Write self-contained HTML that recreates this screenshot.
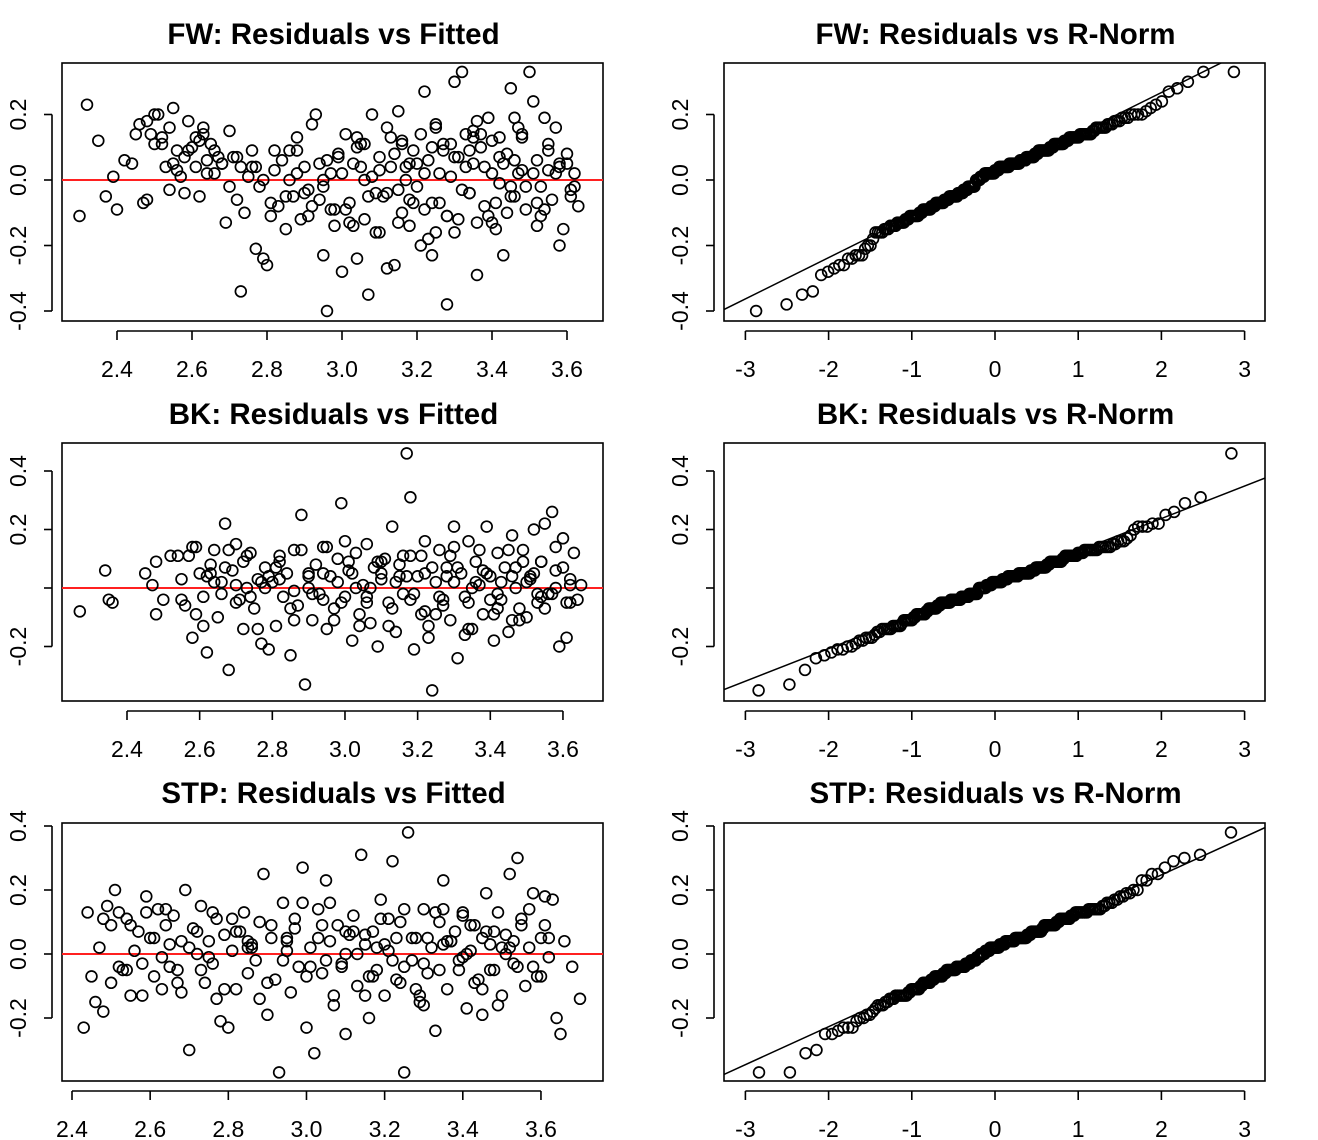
<!DOCTYPE html>
<html><head><meta charset="utf-8">
<style>
html,body{margin:0;padding:0;background:#fff;}
svg{display:block;}
text{font-family:"Liberation Sans",Arial,sans-serif;fill:#000;}
</style></head>
<body>
<svg id="chart" width="1318" height="1140" viewBox="0 0 1318 1140" xmlns="http://www.w3.org/2000/svg"></svg>
<script>
// ---- FW data ----
const fwFitted = [2.32,2.30,2.35,2.37,2.39,2.40,2.42,2.44,2.46,2.47,2.48,2.49,2.50,2.51,2.52,2.53,2.54,2.55,2.56,2.57,2.58,2.59,2.60,2.61,2.62,2.63,2.64,2.65,2.66,2.68,2.69,2.70,2.71,2.72,2.73,2.74,2.75,2.76,2.77,2.78,2.79,2.80,2.81,2.82,2.83,2.84,2.85,2.86,2.87,2.88,2.89,2.90,2.91,2.92,2.93,2.94,2.95,2.96,2.97,2.98,2.99,3.00,3.01,3.02,3.03,3.04,3.05,3.06,3.07,3.08,3.09,3.10,3.11,3.12,3.13,3.14,3.15,3.16,3.17,3.18,3.19,3.20,3.21,3.22,3.23,3.24,3.25,3.26,3.27,3.28,3.29,3.30,3.31,3.32,3.33,3.34,3.35,3.36,3.37,3.38,3.39,3.40,3.41,3.42,3.43,3.44,3.45,3.46,3.47,3.48,3.49,3.50,3.51,3.52,3.53,3.54,3.55,3.56,3.57,3.58,3.59,3.60,3.61,3.62,3.63,
3.10,3.12,3.14,3.16,3.18,3.20,3.22,3.24,3.26,3.28,3.30,3.32,3.34,3.36,3.38,3.40,3.42,3.44,3.46,3.48,3.02,3.04,3.06,3.08,2.96,2.98,2.92,2.88,3.35,3.45,3.25,3.15,3.05,2.95,3.52,3.55,3.58,2.66,2.62,2.56];
const fwResid = [0.23,-0.11,0.12,-0.05,0.01,-0.09,0.06,0.05,0.17,-0.07,-0.06,0.14,0.11,0.20,0.13,0.04,-0.03,0.22,0.09,0.01,0.07,0.18,0.10,0.04,-0.05,0.16,0.06,0.11,0.02,0.05,-0.13,0.15,0.07,-0.06,-0.34,-0.10,0.01,0.04,-0.21,-0.02,-0.24,-0.26,-0.11,0.03,-0.08,0.06,-0.15,0.00,-0.05,0.09,-0.12,0.04,-0.03,0.17,0.20,-0.06,-0.23,-0.40,0.02,-0.09,0.08,-0.28,0.14,-0.13,0.05,-0.24,0.11,0.00,-0.35,0.20,-0.16,0.07,-0.05,-0.27,0.13,-0.26,0.21,-0.10,0.04,-0.14,0.09,-0.02,-0.20,0.27,0.06,-0.23,0.17,-0.07,0.11,-0.38,0.01,0.30,-0.12,0.33,0.14,-0.04,0.05,-0.29,0.10,-0.08,0.19,0.02,-0.15,0.13,-0.23,0.08,0.28,-0.05,0.16,0.03,-0.09,0.33,0.24,0.06,-0.02,0.19,0.11,-0.06,0.02,-0.20,-0.15,0.08,-0.03,0.02,-0.08,
0.03,-0.04,0.08,0.12,-0.06,0.05,-0.09,0.10,0.02,-0.11,0.07,-0.03,0.09,-0.13,0.04,0.12,-0.01,-0.10,0.06,0.14,-0.07,0.10,-0.12,0.01,0.06,-0.14,-0.08,0.02,0.15,-0.02,-0.16,-0.03,0.04,-0.02,-0.07,0.03,0.05,0.09,0.12,0.03];
// extra points (fitted positions shared by all three models)
const extraFitted = [2.45,2.48,2.52,2.55,2.58,2.61,2.64,2.67,2.70,2.73,2.76,2.79,2.82,2.85,2.88,2.91,2.94,2.97,3.00,3.03,3.06,3.09,3.12,3.15,3.18,3.21,3.24,3.27,3.30,3.33,3.36,3.39,3.42,3.45,3.48,3.51,3.54,3.57,3.60,3.62,
2.50,2.54,2.59,2.63,2.68,2.72,2.77,2.81,2.86,2.90,2.95,2.99,3.01,3.04,3.07,3.10,3.13,3.16,3.19,3.22,3.25,3.28,3.31,3.34,3.37,3.40,3.43,3.46,3.49,3.52,3.55,3.58,3.61,3.17,3.23,3.29,3.35,3.41,3.47,3.53];
const fwExtraResid = [0.14,0.18,0.11,0.05,-0.04,0.13,0.02,0.07,-0.02,0.04,0.09,0.00,0.09,-0.05,0.13,-0.11,0.05,-0.09,0.02,-0.14,0.11,-0.04,0.16,-0.13,0.05,0.14,-0.07,0.09,-0.16,0.04,0.18,-0.11,0.07,-0.05,0.13,0.02,-0.09,0.16,0.05,-0.02,
0.20,0.16,0.09,0.14,0.05,0.07,0.04,-0.07,0.09,-0.04,0.00,0.07,-0.09,0.13,-0.05,-0.16,0.04,0.11,-0.07,0.02,0.16,-0.11,0.07,-0.04,0.14,-0.13,0.05,0.19,-0.02,-0.14,0.09,0.04,-0.05,0.00,-0.18,0.11,0.13,-0.07,0.02,-0.11];
// ---- BK data ----
const bkFitted = [2.27,2.34,2.35,2.36,2.47,2.48,2.55,2.56,2.57,2.58,2.59,2.60,2.61,2.62,2.63,2.64,2.65,2.66,2.67,2.68,2.69,2.70,2.71,2.72,2.73,2.74,2.75,2.76,2.77,2.78,2.79,2.80,2.81,2.82,2.83,2.84,2.85,2.86,2.87,2.88,2.89,2.90,2.91,2.92,2.93,2.94,2.95,2.96,2.97,2.98,2.99,3.00,3.01,3.02,3.03,3.04,3.05,3.06,3.07,3.08,3.09,3.10,3.11,3.12,3.13,3.14,3.15,3.16,3.17,3.18,3.19,3.20,3.21,3.22,3.23,3.24,3.25,3.26,3.27,3.28,3.29,3.30,3.31,3.32,3.33,3.34,3.35,3.36,3.37,3.38,3.39,3.40,3.41,3.42,3.43,3.44,3.45,3.46,3.47,3.48,3.49,3.50,3.51,3.52,3.53,3.54,3.55,3.56,3.57,3.58,3.59,3.60,3.61,3.62,3.63,3.64,3.65,
2.62,2.66,2.70,2.74,2.78,2.82,2.86,2.90,2.94,2.98,3.02,3.06,3.10,3.14,3.18,3.22,3.26,3.30,3.34,3.38,3.42,3.46,3.50,3.54,3.58,3.62];
const bkResid = [-0.08,0.06,-0.04,-0.05,0.01,0.09,0.03,-0.06,0.11,-0.17,0.14,0.05,-0.03,-0.22,0.08,0.13,-0.10,0.02,0.22,-0.28,0.06,0.15,-0.04,0.09,0.00,0.12,-0.07,0.03,-0.19,0.07,-0.21,0.02,-0.13,0.11,-0.03,0.05,-0.23,0.13,-0.06,0.25,-0.33,0.00,-0.11,0.08,-0.02,0.14,-0.14,0.04,-0.07,0.10,0.29,-0.03,0.06,-0.18,0.12,-0.09,0.01,0.15,-0.12,0.07,-0.20,0.03,0.10,-0.05,0.21,-0.15,0.08,-0.02,0.46,0.31,-0.21,0.04,0.11,-0.08,-0.17,-0.35,0.02,0.13,-0.06,0.07,-0.11,0.21,-0.24,0.05,-0.03,0.16,-0.14,0.09,0.01,-0.09,0.21,0.04,-0.18,0.12,-0.04,0.07,-0.15,0.18,0.00,-0.07,0.13,-0.10,0.03,0.20,-0.05,0.09,0.22,-0.02,0.26,0.06,-0.20,0.17,-0.17,0.01,0.12,-0.04,0.01,
0.04,-0.02,0.01,-0.03,0.00,0.03,-0.01,0.05,-0.04,0.02,0.05,-0.03,0.09,0.02,-0.04,0.05,-0.03,0.02,-0.05,0.06,-0.02,0.04,0.02,-0.03,0.00,0.03];
const bkExtraResid = [0.05,-0.09,0.11,-0.04,0.14,-0.13,0.02,0.07,-0.05,0.11,-0.14,0.04,0.09,-0.07,0.13,-0.02,0.05,-0.11,0.16,0.00,-0.05,0.09,-0.13,0.04,0.11,-0.09,0.07,-0.04,0.14,-0.16,0.02,0.05,-0.07,0.13,-0.11,0.04,0.09,-0.02,0.07,-0.05,
-0.04,0.11,-0.09,0.05,0.13,-0.14,0.02,0.07,-0.11,0.04,0.14,-0.05,0.09,-0.13,0.00,0.05,-0.07,0.11,-0.02,0.16,-0.09,0.04,0.07,-0.14,0.13,-0.04,0.02,-0.11,0.09,0.05,-0.07,0.14,-0.05,0.04,-0.13,0.11,0.00,-0.09,0.07,-0.02];
// ---- STP data ----
const stpFitted = [2.43,2.44,2.46,2.47,2.48,2.49,2.50,2.51,2.52,2.53,2.54,2.55,2.56,2.57,2.58,2.59,2.60,2.61,2.62,2.63,2.64,2.65,2.66,2.67,2.68,2.69,2.70,2.71,2.72,2.73,2.74,2.75,2.76,2.77,2.78,2.79,2.80,2.81,2.82,2.83,2.84,2.85,2.86,2.87,2.88,2.89,2.90,2.91,2.92,2.93,2.94,2.95,2.96,2.97,2.98,2.99,3.00,3.01,3.02,3.03,3.04,3.05,3.06,3.07,3.08,3.09,3.10,3.11,3.12,3.13,3.14,3.15,3.16,3.17,3.18,3.19,3.20,3.21,3.22,3.23,3.24,3.25,3.26,3.27,3.28,3.29,3.30,3.31,3.32,3.33,3.34,3.35,3.36,3.37,3.38,3.39,3.40,3.41,3.42,3.43,3.44,3.45,3.46,3.47,3.48,3.49,3.50,3.51,3.52,3.53,3.54,3.55,3.56,3.57,3.58,3.59,3.60,3.61,3.62,3.63,3.64,3.65,3.66,3.68,3.70,
2.95,3.05,3.15,3.25,3.35,3.45,2.85,3.10,3.20,3.30,3.40,3.50,2.75,2.65];
const stpResid = [-0.23,0.13,-0.15,0.02,-0.18,0.15,-0.09,0.20,0.13,-0.05,0.11,-0.13,0.01,0.07,-0.03,0.18,0.05,-0.07,0.14,-0.01,0.09,0.03,0.12,-0.05,-0.12,0.20,-0.30,0.08,0.00,0.15,-0.09,0.04,-0.03,0.11,-0.21,0.06,-0.23,0.01,-0.11,0.07,0.13,-0.06,0.03,-0.02,0.10,0.25,-0.19,0.05,-0.08,-0.37,0.16,0.01,-0.12,0.08,-0.04,0.27,-0.23,0.02,-0.31,0.14,-0.06,0.23,0.04,-0.16,0.09,-0.03,-0.25,0.06,0.12,-0.10,0.31,0.03,-0.20,0.07,-0.05,0.17,-0.13,0.01,0.29,-0.08,0.10,-0.37,0.38,-0.02,0.05,-0.15,0.14,-0.06,0.02,-0.24,0.10,0.23,-0.11,0.04,0.07,-0.02,0.12,-0.17,0.01,0.09,-0.08,-0.19,0.19,0.03,-0.05,0.13,-0.13,0.06,0.25,-0.03,0.30,0.09,-0.10,0.02,0.19,-0.07,0.05,0.18,-0.01,0.17,-0.20,-0.25,0.04,-0.04,-0.14,
0.04,-0.02,0.06,-0.04,0.03,0.05,0.02,0.00,0.03,-0.03,-0.01,0.02,-0.01,-0.04];
const stpExtraResid = [-0.07,0.11,-0.04,0.09,-0.13,0.05,0.14,-0.09,0.02,-0.05,0.13,-0.11,0.07,0.04,-0.14,0.09,-0.02,0.11,-0.07,0.05,0.16,-0.04,0.07,-0.13,0.02,0.11,-0.09,0.05,-0.16,0.13,0.04,-0.05,0.09,-0.11,0.07,0.00,-0.04,0.14,-0.07,0.05,
0.09,-0.05,0.13,-0.11,0.04,0.07,-0.14,0.11,0.02,-0.09,0.05,0.16,-0.04,0.09,-0.13,0.07,0.00,-0.07,0.11,-0.02,0.14,-0.11,0.05,-0.05,0.04,0.13,-0.09,0.07,-0.16,0.02,0.11,-0.04,0.09,-0.07,0.05,-0.13,0.14,0.00,-0.05,0.04];
// ---- axis tick labels ----
const fittedTicks = [2.4,2.6,2.8,3.0,3.2,3.4,3.6];
const normTicks = [-3,-2,-1,0,1,2,3];
const fwYTicks = [0.2,0.0,-0.2,-0.4];
const bkYTicks = [0.4,0.2,-0.2];
const stpYTicks = [0.4,0.2,0.0,-0.2];

const NS = "http://www.w3.org/2000/svg";
const svg = document.getElementById('chart');
function mk(tag, attrs, parent){
  const e = document.createElementNS(NS, tag);
  for (const k in attrs) e.setAttribute(k, attrs[k]);
  (parent||svg).appendChild(e);
  return e;
}
function qnorm(p){
  const a=[-39.69683028665376,220.9460984245205,-275.9285104469687,138.3577518672690,-30.66479806614716,2.506628277459239];
  const b=[-54.47609879822406,161.5858368580409,-155.6989798598866,66.80131188771972,-13.28068155288572];
  const c=[-0.007784894002430293,-0.3223964580411365,-2.400758277161838,-2.549732539343734,4.374664141464968,2.938163982698783];
  const d=[0.007784695709041462,0.3224671290700398,2.445134137142996,3.754408661907416];
  const pl=0.02425;
  if(p<pl){const q=Math.sqrt(-2*Math.log(p));return (((((c[0]*q+c[1])*q+c[2])*q+c[3])*q+c[4])*q+c[5])/((((d[0]*q+d[1])*q+d[2])*q+d[3])*q+1);}
  if(p>1-pl){const q=Math.sqrt(-2*Math.log(1-p));return -(((((c[0]*q+c[1])*q+c[2])*q+c[3])*q+c[4])*q+c[5])/((((d[0]*q+d[1])*q+d[2])*q+d[3])*q+1);}
  const q=p-0.5,r=q*q;
  return (((((a[0]*r+a[1])*r+a[2])*r+a[3])*r+a[4])*r+a[5])*q/(((((b[0]*r+b[1])*r+b[2])*r+b[3])*r+b[4])*r+1);
}
function quant(sorted,p){const h=(sorted.length-1)*p,lo=Math.floor(h);return sorted[lo]+(h-lo)*(sorted[Math.min(lo+1,sorted.length-1)]-sorted[lo]);}

function panel(cfg){
  const g = mk('g', {});
  
  
  const {x0,x1,y0,y1} = cfg.box;
  const t = mk('text', {x:(x0+x1)/2+1, y:cfg.titleY, 'text-anchor':'middle', 'font-size':29.5, 'font-weight':'bold'}, g);
  t.textContent = cfg.title;
  
  
  const r = mk('rect', {x:x0, y:y0, width:x1-x0, height:y1-y0, fill:'none', stroke:'#000', 'stroke-width':1.6}, g);
  
  
  const xa = mk('g', {}, g);
  
  
  const xt = cfg.xTicks;
  mk('line', {x1:cfg.sx(xt[0]), x2:cfg.sx(xt[xt.length-1]), y1:y1+10, y2:y1+10, stroke:'#000','stroke-width':1.6}, xa);
  xt.forEach(v=>{
    const px = cfg.sx(v);
    mk('line', {x1:px,x2:px,y1:y1+10,y2:y1+19,stroke:'#000','stroke-width':1.6}, xa);
    const tx = mk('text', {x:px, y:y1+56, 'text-anchor':'middle','font-size':23}, xa);
    tx.textContent = cfg.xFmt(v);
    
    
  });
  const ya = mk('g', {}, g);
  
  
  const yl = cfg.yLineTicks;
  const ymin = Math.min(...yl), ymax = Math.max(...yl);
  mk('line', {x1:x0-10, x2:x0-10, y1:cfg.sy(ymax), y2:cfg.sy(ymin), stroke:'#000','stroke-width':1.6}, ya);
  yl.forEach(v=>{
    const py = cfg.sy(v);
    mk('line', {x1:x0-18,x2:x0-10,y1:py,y2:py,stroke:'#000','stroke-width':1.6}, ya);
  });
  cfg.yTicks.forEach(v=>{
    const py = cfg.sy(v);
    const lx = x0-36;
    const ty = mk('text', {x:lx, y:py, 'text-anchor':'middle','font-size':23, transform:`rotate(-90 ${lx} ${py})`}, ya);
    ty.textContent = v.toFixed(1);
    
    
  });
  if (cfg.ref) {
    const cp = mk('clipPath', {id:cfg.name+'-clip'}, g);
    mk('rect', {x:x0,y:y0,width:x1-x0,height:y1-y0}, cp);
    const l = mk('line', Object.assign({stroke:cfg.ref.color,'stroke-width':cfg.ref.w,'clip-path':`url(#${cfg.name}-clip)`}, cfg.ref.coords), g);
    
    
  }
  const pts = mk('g', {}, g);
  
  
  for (let i=0;i<cfg.xs.length;i++){
    const c = mk('circle', {cx:cfg.sx(cfg.xs[i]).toFixed(1), cy:cfg.sy(cfg.ys[i]).toFixed(1), r:5.4, fill:'none', stroke:'#000','stroke-width':1.7}, pts);
    
    
  }
}

function qq(resid){
  const s = resid.slice().sort((a,b)=>a-b);
  const n = s.length, a = n<=10?3/8:0.5;
  const z = s.map((_,i)=>qnorm((i+1-a)/(n+1-2*a)));
  const q1=quant(s,0.25), q3=quant(s,0.75), z1=qnorm(0.25), z3=qnorm(0.75);
  const slope=(q3-q1)/(z3-z1), icpt=q1-slope*z1;
  return {z, s, slope, icpt};
}
function combine(fx, fy, ex, ey){
  const n = Math.min(ex.length, ey.length);
  return {x: fx.concat(ex.slice(0,n)), y: fy.concat(ey.slice(0,n))};
}

const rows = [
  {label:'FW', d:combine(fwFitted, fwResid, extraFitted, fwExtraResid), box:[63,321], titleY:44,
   fx:v=>117+(v-2.4)*375, sy:v=>180-v*327.5, yTicks:fwYTicks, yLine:[0.2,0.0,-0.2,-0.4]},
  {label:'BK', d:combine(bkFitted, bkResid, extraFitted, bkExtraResid), box:[443,701], titleY:424,
   fx:v=>127+(v-2.4)*363.3, sy:v=>588-v*292.5, yTicks:bkYTicks, yLine:[0.4,0.2,0.0,-0.2]},
  {label:'STP', d:combine(stpFitted, stpResid, extraFitted, stpExtraResid), box:[823,1081], titleY:803,
   fx:v=>72+(v-2.4)*390.8, sy:v=>954-v*320, yTicks:stpYTicks, yLine:[0.4,0.2,0.0,-0.2]},
];
const nx = v=>995+v*83.2;
rows.forEach(rw=>{
  panel({name:rw.label.toLowerCase()+'-residuals-vs-fitted', title:rw.label+': Residuals vs Fitted',
    box:{x0:62,x1:603,y0:rw.box[0],y1:rw.box[1]}, titleY:rw.titleY,
    sx:rw.fx, sy:rw.sy, xTicks:fittedTicks, xFmt:v=>v.toFixed(1), yTicks:rw.yTicks, yLineTicks:rw.yLine,
    xs:rw.d.x, ys:rw.d.y,
    ref:{name:'zero-line', color:'#ff2020', w:2, coords:{x1:62,x2:603,y1:rw.sy(0),y2:rw.sy(0)}}});
  const q = qq(rw.d.y);
  panel({name:rw.label.toLowerCase()+'-residuals-vs-rnorm', title:rw.label+': Residuals vs R-Norm',
    box:{x0:724,x1:1265,y0:rw.box[0],y1:rw.box[1]}, titleY:rw.titleY,
    sx:nx, sy:rw.sy, xTicks:normTicks, xFmt:v=>String(v), yTicks:rw.yTicks, yLineTicks:rw.yLine,
    xs:q.z, ys:q.s,
    ref:{name:'qq-line', color:'#000', w:1.5, coords:{x1:nx(-3.3),x2:nx(3.3),y1:rw.sy(q.icpt+q.slope*-3.3),y2:rw.sy(q.icpt+q.slope*3.3)}}});
});
</script>
</body></html>
